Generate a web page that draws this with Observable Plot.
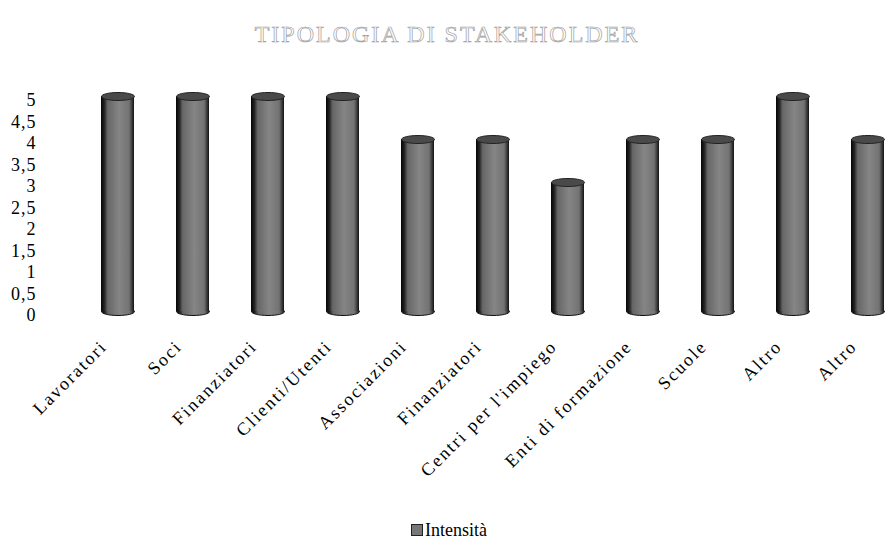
<!DOCTYPE html>
<html>
<head>
<meta charset="utf-8">
<script src="https://cdn.jsdelivr.net/npm/d3@7"></script>
<script src="https://cdn.jsdelivr.net/npm/@observablehq/plot@0.6"></script>
<style>
  html, body { margin: 0; padding: 0; background: #fff; width: 886px; height: 542px; overflow: hidden; }
  #title { height: 60px; box-sizing: border-box; padding-top: 22px; text-align: center; font-family: "Liberation Serif", "Times New Roman", "DejaVu Serif", serif; font-size: 24px; line-height: 25px; letter-spacing: 2px; color: #fff; -webkit-text-stroke: 0.7px #a0a0a0; padding-left: 8px; }
  #chart { height: 420px; }
  #legend { text-align: center; font-family: "Liberation Serif", "Times New Roman", "DejaVu Serif", serif; font-size: 18px; margin-top: 40px; padding-left: 12px; color: #000; }
  #legend .sw { display: inline-block; width: 10px; height: 10px; background: #777; border: 1px solid #222; vertical-align: 0px; margin-right: 2px; }
  #chart svg text { font-family: "Liberation Serif", "Times New Roman", "DejaVu Serif", serif; }
  #chart svg g[aria-label="x-axis tick label"] text { letter-spacing: 2px; }
  #chart svg g[aria-label="y-axis tick label"] text { letter-spacing: 1px; }
</style>
</head>
<body>
<svg width="0" height="0" style="position:absolute">
  <defs>
    <linearGradient id="cyl" x1="0" x2="1" y1="0" y2="0">
      <stop offset="0" stop-color="#050505"/>
      <stop offset="0.1" stop-color="#222"/>
      <stop offset="0.2" stop-color="#666"/>
      <stop offset="0.55" stop-color="#858585"/>
      <stop offset="0.85" stop-color="#737373"/>
      <stop offset="0.95" stop-color="#333"/>
      <stop offset="1" stop-color="#111"/>
    </linearGradient>
  </defs>
</svg>
<div id="title">TIPOLOGIA DI STAKEHOLDER</div>
<div id="chart"></div>
<div id="legend"><span class="sw"></span>Intensità</div>
<script>
const categories = ["Lavoratori", "Soci", "Finanziatori", "Clienti/Utenti", "Associazioni", "Finanziatori", "Centri per l'impiego", "Enti di formazione", "Scuole", "Altro", "Altro"];
const intensita = [5, 5, 5, 5, 4, 4, 3, 4, 4, 5, 4];
const yTicks = [0, 0.5, 1, 1.5, 2, 2.5, 3, 3.5, 4, 4.5, 5];

const data = categories.map((c, i) => ({i, name: c, value: intensita[i]}));

function ellipseSymbol(rx, ry) {
  const k = 0.5523;
  return {
    draw(ctx) {
      ctx.moveTo(-rx, 0);
      ctx.bezierCurveTo(-rx, -ry * k, -rx * k, -ry, 0, -ry);
      ctx.bezierCurveTo(rx * k, -ry, rx, -ry * k, rx, 0);
      ctx.bezierCurveTo(rx, ry * k, rx * k, ry, 0, ry);
      ctx.bezierCurveTo(-rx * k, ry, -rx, ry * k, -rx, 0);
      ctx.closePath();
    }
  };
}
const cap = ellipseSymbol(16.5, 4);

const chart = Plot.plot({
  width: 886,
  height: 420,
  marginTop: 36,
  marginBottom: 169,
  marginLeft: 40,
  marginRight: 0,
  style: {fontFamily: "'Liberation Serif', 'Times New Roman', serif", fontSize: "16px", color: "#000", background: "transparent", overflow: "visible"},
  x: {type: "band", domain: d3.range(categories.length), range: [55, 929], padding: 0.56},
  y: {domain: [0, 5]},
  marks: [
    Plot.dot(data, {x: "i", y: () => 0, r: 5, symbol: cap, fill: "url(#cyl)", stroke: "#111", strokeWidth: 1}),
    Plot.barY(data, {x: "i", y: "value", fill: "url(#cyl)"}),
    Plot.dot(data, {x: "i", y: "value", r: 5, symbol: cap, fill: "#4a4a4a", stroke: "#222", strokeWidth: 1}),
    Plot.axisY({ticks: yTicks, tickFormat: d => String(d).replace(".", ","), tickSize: 0, tickPadding: 4, dy: 4, label: null, fontSize: 18}),
    Plot.axisX({tickFormat: i => categories[i], tickSize: 0, tickPadding: 32, tickRotate: -45, dx: -14, label: null, fontSize: 18})
  ]
});
document.getElementById("chart").appendChild(chart);
</script>
</body>
</html>
